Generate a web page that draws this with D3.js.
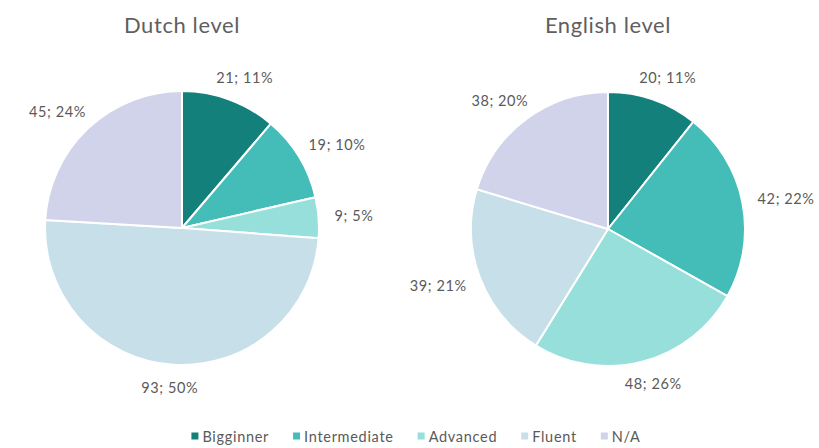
<!DOCTYPE html>
<html>
<head>
<meta charset="utf-8">
<script src="https://cdn.jsdelivr.net/npm/d3@7"></script>
<style>
  html, body { margin: 0; padding: 0; background: #fff; }
  svg { display: block; }
</style>
</head>
<body>
<svg id="chart" width="819" height="448"></svg>
<script>
// Language-level survey: two pies sharing one legend
const categories = ["Bigginner", "Intermediate", "Advanced", "Fluent", "N/A"];
const dutchValues = [21, 19, 9, 93, 45];
const englishValues = [20, 42, 48, 39, 38];
const chartTitles = ["Dutch level", "English level"];
const sliceColors = ["#13807b", "#44bcb8", "#97dfdb", "#c7dfe8", "#d1d3eb"];

const svg = d3.select("#chart");
const FONT = "Lato, 'Open Sans', 'DejaVu Sans', sans-serif";

const color = d3.scaleOrdinal().domain(categories).range(sliceColors);
const radius = 137;
const pies = [
  { title: chartTitles[0], values: dutchValues, cx: 182, cy: 228 },
  { title: chartTitles[1], values: englishValues, cx: 608, cy: 229 }
];

const pie = d3.pie().sort(null).value(d => d.value);
const arc = d3.arc().innerRadius(0).outerRadius(radius);

pies.forEach(p => {
  const rows = categories.map((c, i) => ({ category: c, value: p.values[i] }));
  const total = d3.sum(p.values);
  const g = svg.append("g").attr("transform", `translate(${p.cx},${p.cy})`);

  svg.append("text")
    .attr("x", p.cx).attr("y", 33)
    .attr("text-anchor", "middle")
    .attr("font-family", FONT).attr("font-size", 22)
    .attr("letter-spacing", 0.6)
    .attr("fill", "#5f5f5f")
    .text(p.title);

  const arcs = pie(rows);
  g.selectAll("path").data(arcs).join("path")
    .attr("d", arc)
    .attr("fill", d => color(d.data.category))
    .attr("stroke", "#fff")
    .attr("stroke-width", 2)
    .attr("stroke-linejoin", "round");

  // Value labels outside each slice: "count; percent"
  const labels = g.selectAll("text.lbl").data(arcs).join("text")
    .attr("class", "lbl")
    .attr("font-family", FONT).attr("font-size", 14.5)
    .attr("letter-spacing", 0.6)
    .attr("fill", "#5a5a5a")
    .attr("text-anchor", "middle")
    .attr("dominant-baseline", "central")
    .text(d => `${d.data.value}; ${Math.round(d.data.value / total * 100)}%`);

  labels.each(function(d) {
    const a = (d.startAngle + d.endAngle) / 2;
    const w = this.getComputedTextLength();
    const h = 14;
    const rr = radius + 16;
    const x = Math.sin(a) * rr + Math.sin(a) * w / 2;
    const y = -Math.cos(a) * rr - Math.cos(a) * h / 2;
    d3.select(this).attr("x", x).attr("y", y);
  });
});

// Shared legend along the bottom
const legend = svg.append("g");
const legY = 436;
let xPos = 0;
categories.forEach(c => {
  const item = legend.append("g").attr("transform", `translate(${xPos},0)`);
  item.append("rect")
    .attr("x", 0).attr("y", legY - 3.5)
    .attr("width", 7).attr("height", 7)
    .attr("fill", color(c));
  const t = item.append("text")
    .attr("x", 11).attr("y", legY)
    .attr("dominant-baseline", "central")
    .attr("font-family", FONT).attr("font-size", 14.5)
    .attr("letter-spacing", 0.7)
    .attr("fill", "#5a5a5a")
    .text(c);
  xPos += 11 + t.node().getComputedTextLength() + 24;
});
const legW = xPos - 24;
legend.attr("transform", `translate(${416 - legW / 2},0)`);
</script>
</body>
</html>
